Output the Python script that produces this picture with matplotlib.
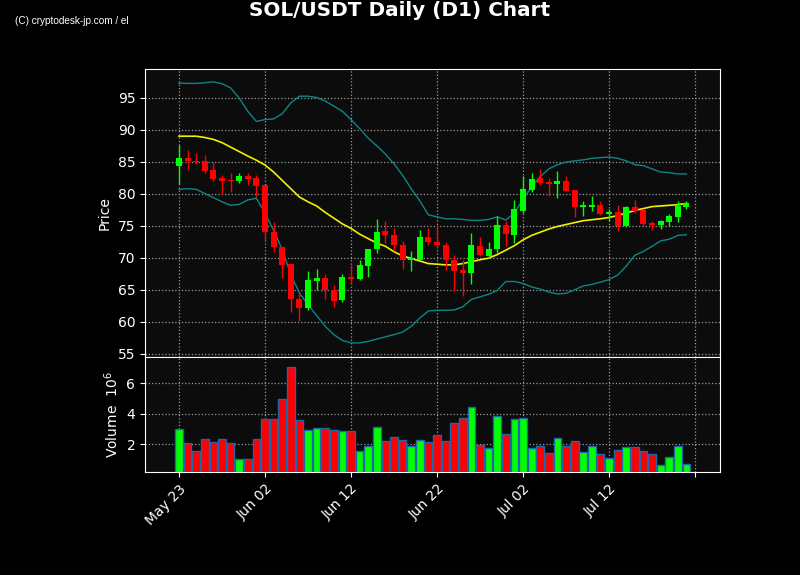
import matplotlib
matplotlib.use("Agg")
import matplotlib.pyplot as plt
import matplotlib.dates as mdates
import numpy as np
import pandas as pd

# daily candles, May 23 -> Jul 21
dates = pd.date_range("2024-05-23", periods=60, freq="D")

opens = [84.35, 85.6, 85.2, 85.1, 83.7, 82.4, 82.1, 82.0, 82.75, 82.4,
         81.35, 74.1, 71.7, 69.0, 63.6, 62.1, 66.4, 66.9, 65.0, 63.4,
         67.0, 66.7, 68.75, 71.3, 74.15, 73.6, 72.05, 69.6, 69.7, 73.25,
         72.5, 72.05, 69.7, 68.1, 67.7, 71.9, 70.3, 71.3, 75.2, 73.6,
         77.3, 80.65, 82.4, 81.9, 81.55, 82.0, 80.6, 77.9, 78.0, 78.3,
         76.9, 77.15, 75.0, 78.0, 77.4, 75.4, 75.1, 75.6, 76.4, 77.9]
highs = [87.6, 86.9, 86.4, 86.1, 84.9, 83.0, 83.2, 83.2, 83.3, 83.0,
         81.35, 75.6, 71.7, 69.0, 64.7, 67.9, 68.2, 67.5, 65.75, 67.5,
         68.9, 69.6, 71.4, 76.1, 75.7, 74.7, 72.6, 71.0, 74.4, 74.65,
         75.0, 72.5, 70.4, 69.7, 73.9, 73.25, 72.5, 76.5, 75.7, 79.1,
         82.8, 83.2, 83.9, 82.4, 83.6, 82.8, 80.6, 78.9, 79.6, 78.95,
         77.6, 78.2, 78.1, 79.0, 77.6, 75.8, 75.9, 76.8, 78.8, 78.9]
lows = [81.6, 83.7, 84.7, 83.2, 82.0, 79.95, 80.3, 81.7, 81.3, 79.5,
        72.8, 70.9, 66.85, 61.55, 60.05, 61.9, 65.0, 63.6, 62.3, 63.1,
        65.9, 66.5, 67.0, 70.75, 72.25, 71.0, 68.2, 67.9, 69.6, 72.0,
        71.5, 68.15, 64.75, 64.05, 65.95, 70.3, 70.0, 70.8, 71.85, 72.35,
        77.05, 80.3, 81.4, 79.65, 79.35, 80.4, 76.4, 76.6, 77.25, 76.7,
        75.8, 74.2, 74.75, 77.05, 75.0, 74.3, 74.5, 74.9, 75.6, 77.6]
closes = [85.65, 85.1, 84.9, 83.6, 82.3, 82.0, 82.0, 82.75, 82.3, 81.2,
          74.1, 71.65, 68.8, 63.6, 62.1, 66.6, 66.9, 64.9, 63.2, 67.05,
          66.75, 68.9, 71.3, 74.1, 73.5, 71.95, 69.6, 69.95, 73.3, 72.4,
          71.95, 69.65, 68.0, 67.7, 71.95, 70.4, 71.4, 75.2, 73.65, 77.55,
          80.8, 82.25, 81.65, 81.55, 82.0, 80.5, 77.9, 78.2, 78.25, 76.8,
          77.15, 74.95, 78.0, 77.35, 75.25, 75.15, 75.7, 76.5, 78.1, 78.5]

volumes = [2.98, 2.07, 1.56, 2.33, 2.13, 2.33, 2.07, 1.02, 1.02, 2.33,
           3.64, 3.64, 4.95, 7.05, 3.57, 2.92, 3.05, 3.05, 2.92, 2.85,
           2.85, 1.56, 1.87, 3.11, 2.22, 2.46, 2.26, 1.87, 2.26, 2.13,
           2.59, 2.22, 3.40, 3.70, 4.43, 1.93, 1.74, 3.84, 2.66, 3.64,
           3.70, 1.74, 1.87, 1.41, 2.39, 1.87, 2.20, 1.48, 1.87, 1.34,
           1.08, 1.61, 1.80, 1.80, 1.54, 1.34, 0.62, 1.15, 1.87, 0.69]

# 20-day bollinger band values
bb_mid = [89.0, 89.0, 89.0, 88.8, 88.5, 88.0, 87.3, 86.6, 85.9, 85.25,
          84.5, 83.4, 82.1, 80.8, 79.5, 78.75, 78.1, 77.1, 76.2, 75.3,
          74.6, 73.7, 73.0, 72.3, 71.8, 70.95, 70.3, 69.9, 69.5, 69.1,
          69.0, 68.9, 68.9, 69.1, 69.4, 69.7, 69.95, 70.5, 71.2, 71.9,
          72.8, 73.5, 74.0, 74.5, 74.9, 75.2, 75.5, 75.8, 75.95, 76.1,
          76.3, 76.6, 77.0, 77.4, 77.7, 78.0, 78.1, 78.2, 78.3, 78.5]
bb_up = [97.3, 97.25, 97.25, 97.35, 97.5, 97.2, 96.55, 94.95, 92.9, 91.3,
         91.6, 91.7, 92.5, 94.2, 95.25, 95.25, 95.05, 94.5, 93.7, 92.9,
         91.6, 90.2, 88.7, 87.5, 86.2, 84.7, 82.9, 80.8, 78.9, 76.7,
         76.4, 76.1, 76.1, 76.0, 75.85, 75.85, 76.0, 76.4, 75.9, 77.0,
         79.15, 81.1, 82.7, 83.9, 84.55, 84.95, 85.15, 85.3, 85.55, 85.65,
         85.75, 85.55, 85.15, 84.55, 84.4, 83.9, 83.4, 83.3, 83.1, 83.1]
bb_low = [80.7, 80.8, 80.7, 80.05, 79.4, 78.75, 78.2, 78.35, 79.05, 79.3,
          77.0, 74.3, 71.3, 67.4, 64.5, 62.7, 61.0, 59.3, 58.0, 57.1,
          56.7, 56.7, 56.95, 57.3, 57.65, 58.0, 58.4, 59.3, 60.6, 61.7,
          61.8, 61.8, 61.85, 62.35, 63.5, 63.9, 64.3, 64.9, 66.3, 66.3,
          66.0, 65.45, 65.1, 64.65, 64.35, 64.45, 65.0, 65.6, 65.85, 66.2,
          66.6, 67.3, 68.7, 70.4, 71.0, 71.8, 72.65, 72.9, 73.5, 73.6]

tick_dates = ["2024-05-23", "2024-06-02", "2024-06-12", "2024-06-22",
              "2024-07-02", "2024-07-12", "2024-07-22"]
tick_labels = ["May 23", "Jun 02", "Jun 12", "Jun 22", "Jul 02", "Jul 12", ""]

UP = "#00ff00"
DOWN = "#ff0000"
BG = "#0c0c0c"

x = mdates.date2num(dates)
o = np.array(opens)
c = np.array(closes)
cols = [UP if cc >= oo else DOWN for oo, cc in zip(o, c)]

fig = plt.figure(figsize=(8, 5.75), dpi=100, facecolor="black")
ax1 = fig.add_axes([0.18125, 0.3791, 0.71875, 0.5009])
ax2 = fig.add_axes([0.18125, 0.1791, 0.71875, 0.2], sharex=ax1)

# candles
ax1.vlines(x, lows, highs, colors=cols, linewidth=1, zorder=3)
body = np.maximum(np.abs(c - o), 0.12)
ax1.bar(x, body, bottom=np.minimum(o, c), width=0.7, color=cols,
        linewidth=0, zorder=4)
ax1.plot(x, bb_up, color="#0f8585", linewidth=1, zorder=2)
ax1.plot(x, bb_low, color="#0f8585", linewidth=1, zorder=2)
ax1.plot(x, bb_mid, color="#f0f000", linewidth=1.2, zorder=2)

# volume
ax2.bar(x, volumes, width=0.9, color=cols, edgecolor="#1f66aa",
        linewidth=1, zorder=3)

for ax in (ax1, ax2):
    ax.set_facecolor(BG)
    ax.grid(True, linestyle=":", color="#9a9a9a", linewidth=0.9)
    ax.tick_params(colors="white", labelsize=10)
    for sp in ax.spines.values():
        sp.set_color("white")

ax1.set_ylim(54.5, 99.5)
ax1.set_yticks(np.arange(55, 96, 5))
ax1.set_ylabel("Price", color="white", fontsize=10)
ax1.tick_params(axis="x", bottom=False, labelbottom=False)

ax2.set_ylim(0.18, 7.7)
ax2.set_yticks([2, 4, 6])
ax2.set_ylabel("Volume  $10^{6}$", color="white", fontsize=10)

ticks = mdates.date2num(pd.to_datetime(tick_dates))
ax2.set_xticks(ticks)
ax2.set_xticklabels(tick_labels, rotation=45, ha="right",
                    rotation_mode="anchor")
ax2.set_xlim(x[0] - 3.95, x[0] + 62.9)

fig.text(0.5, 0.981, "SOL/USDT Daily (D1) Chart", color="white",
         fontsize=14.4, fontweight="bold", ha="center", va="center")
fig.text(0.019, 0.963, "(C) cryptodesk-jp.com / el", color="white",
         fontsize=7.2, family="Liberation Sans", ha="left", va="center")

fig.savefig("out.png", facecolor=fig.get_facecolor())
